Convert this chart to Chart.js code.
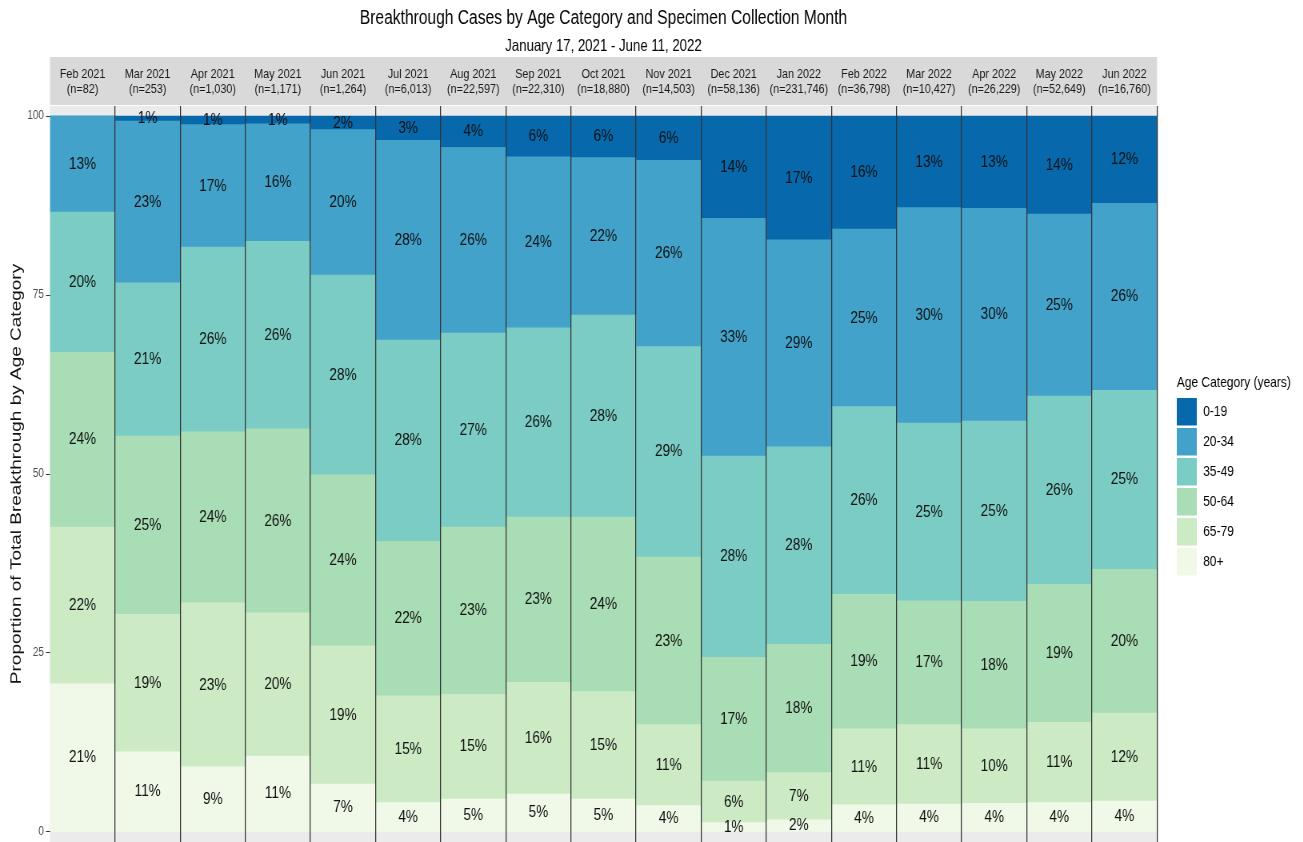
<!DOCTYPE html>
<html>
<head>
<meta charset="utf-8">
<title>Breakthrough Cases by Age Category</title>
<script src="https://cdn.jsdelivr.net/npm/chart.js@4.4.1/dist/chart.umd.min.js"></script>
<style>
    html, body { margin: 0; padding: 0; background: #fff; overflow: hidden; }
    /* the reference is squeezed horizontally, so the canvas is drawn wider and scaled down */
    #marco { width: 1629px; height: 842px; transform: scaleX(0.8); transform-origin: 0 0; }
</style>
</head>
<body>
<div id="marco"><canvas id="grafico" width="1629" height="842"></canvas></div>
<script>
// --- DATOS ---
const meses = ['Feb 2021', 'Mar 2021', 'Apr 2021', 'May 2021', 'Jun 2021', 'Jul 2021', 'Aug 2021', 'Sep 2021', 'Oct 2021',
    'Nov 2021', 'Dec 2021', 'Jan 2022', 'Feb 2022', 'Mar 2022', 'Apr 2022', 'May 2022', 'Jun 2022'];
const casos = [82, 253, 1030, 1171, 1264, 6013, 22597, 22310, 18880, 14503, 58136, 231746, 36798, 10427, 26229, 52649, 16760];

// porcentaje de cada grupo de edad por mes
const edad0a19  = [0, 0.7, 1.2, 1.1, 1.9, 3.4, 4.4, 5.7, 5.8, 6.2, 14.3, 17.3, 15.8, 12.8, 12.9, 13.7, 12.2];
const edad20a34 = [13.4, 22.6, 17.1, 16.4, 20.3, 27.9, 25.9, 23.9, 22.0, 26.0, 33.2, 28.9, 24.8, 30.1, 29.7, 25.4, 26.1];
const edad35a49 = [19.6, 21.4, 25.8, 26.2, 27.9, 28.1, 27.1, 26.4, 28.2, 29.4, 28.1, 27.6, 26.2, 24.8, 25.2, 26.3, 25.0];
const edad50a64 = [24.4, 24.9, 23.9, 25.7, 23.9, 21.6, 23.4, 23.1, 24.4, 23.4, 17.3, 17.9, 18.8, 17.3, 17.8, 19.3, 20.1];
const edad65a79 = [21.9, 19.2, 22.9, 20.0, 19.3, 14.9, 14.6, 15.6, 15.0, 11.3, 5.8, 6.6, 10.6, 11.1, 10.4, 11.2, 12.3];
const edad80    = [20.7, 11.2, 9.1, 10.6, 6.7, 4.1, 4.6, 5.3, 4.6, 3.7, 1.3, 1.7, 3.8, 3.9, 4.0, 4.1, 4.3];

const marcasY = [0, 25, 50, 75, 100];

const grupos = ['0-19', '20-34', '35-49', '50-64', '65-79', '80+'];
const colores = ['#0868AC', '#43A2CA', '#7BCCC4', '#A8DDB5', '#CCEBC5', '#F0F9E8'];
const series = [edad0a19, edad20a34, edad35a49, edad50a64, edad65a79, edad80];

const fuente = '"Liberation Sans", Arial, sans-serif';

// --- PLUGINS ---
const fondoPanel = {
    id: 'fondoPanel',
    beforeDraw(chart) {
        const { ctx, chartArea: a } = chart;
        ctx.save();
        ctx.fillStyle = '#EBEBEB';
        ctx.fillRect(a.left, a.top, a.right - a.left, a.bottom - a.top);
        ctx.fillStyle = '#D9D9D9';
        ctx.fillRect(a.left, 57, a.right - a.left, a.top - 58);
        ctx.restore();
    }
};

const etiquetas = {
    id: 'etiquetas',
    afterDatasetsDraw(chart) {
        const ctx = chart.ctx;
        ctx.save();
        ctx.font = '17px ' + fuente;
        ctx.fillStyle = '#111';
        ctx.textAlign = 'center';
        ctx.textBaseline = 'middle';
        chart.data.datasets.forEach((ds, i) => {
            chart.getDatasetMeta(i).data.forEach((barra, j) => {
                const v = ds.data[j];
                if (!v) return;
                ctx.fillText(Math.round(v) + '%', barra.x, (barra.y + barra.base) / 2);
            });
        });
        ctx.restore();
    }
};

const titulos = {
    id: 'titulos',
    afterDraw(chart) {
        const { ctx, chartArea: a } = chart;
        const cx = (a.left + a.right) / 2;
        ctx.save();
        ctx.fillStyle = '#000';
        ctx.textAlign = 'center';
        ctx.textBaseline = 'middle';
        ctx.font = '19.5px ' + fuente;
        ctx.fillText('Breakthrough Cases by Age Category and Specimen Collection Month', cx, 19);
        ctx.font = '16.5px ' + fuente;
        ctx.fillText('January 17, 2021 - June 11, 2022', cx, 46);

        // leyenda
        const x0 = 1471;
        ctx.textAlign = 'left';
        ctx.font = '15px ' + fuente;
        ctx.fillText('Age Category (years)', x0, 383);
        grupos.forEach((g, i) => {
            const y = 398 + i * 30;
            ctx.fillStyle = colores[i];
            ctx.fillRect(x0, y, 25, 27.5);
            ctx.fillStyle = '#000';
            ctx.fillText(g, 1504, y + 14);
        });
        ctx.restore();
    }
};

// --- GRÁFICO ---
const conjuntos = series.map((datos, i) => ({
    label: grupos[i],
    data: datos,
    backgroundColor: colores[i],
    borderWidth: 0,
    barPercentage: 1,
    categoryPercentage: 1
})).reverse();

new Chart(document.getElementById('grafico'), {
    type: 'bar',
    data: {
        labels: meses.map((m, i) => [m, '(n=' + casos[i].toLocaleString('en-US') + ')']),
        datasets: conjuntos
    },
    options: {
        responsive: false,
        animation: false,
        layout: { padding: { top: 57, right: 182.75, left: 0, bottom: 0 } },
        plugins: { legend: { display: false }, tooltip: { enabled: false } },
        scales: {
            x: {
                position: 'top',
                stacked: true,
                afterFit: s => { s.height = 49; s.paddingLeft = 0; s.paddingRight = 0; },
                grid: {
                    z: 1,
                    offset: true,
                    drawTicks: false,
                    lineWidth: 1.25,
                    color: c => (c.index === 0 || c.index === meses.length) ? 'rgba(0,0,0,0)' : '#333'
                },
                border: { display: false },
                ticks: {
                    padding: 9.5,
                    color: '#1A1A1A',
                    font: { family: fuente, size: 13.5, lineHeight: 15 / 13.5 },
                    maxRotation: 0,
                    autoSkip: false
                }
            },
            y: {
                stacked: true,
                min: -1.4,
                max: 101.4,
                afterFit: s => { s.width = 62.5; s.paddingTop = 0; s.paddingBottom = 0; },
                afterBuildTicks: s => { s.ticks = marcasY.map(v => ({ value: v })); },
                grid: { drawOnChartArea: false, drawTicks: true, tickLength: 5, color: '#333' },
                border: { display: false },
                ticks: {
                    padding: 2.5,
                    color: '#4D4D4D',
                    font: { family: fuente, size: 12.5 }
                },
                title: {
                    display: true,
                    text: 'Proportion of Total Breakthrough by Age Category',
                    color: '#111',
                    font: { family: fuente, size: 19 },
                    padding: { top: 9.6, bottom: 0 }
                }
            }
        }
    },
    plugins: [fondoPanel, etiquetas, titulos]
});
</script>
</body>
</html>
